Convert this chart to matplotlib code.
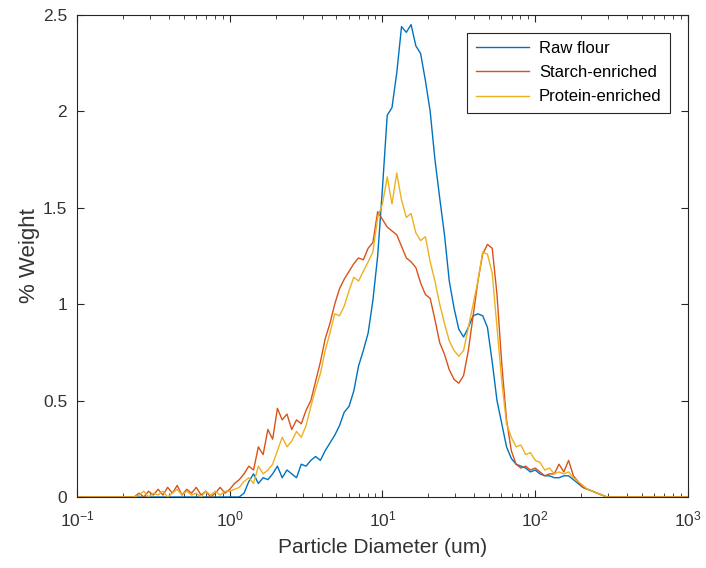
import numpy as np
import matplotlib.pyplot as plt
from matplotlib.ticker import LogLocator, FixedLocator

# size bins: 32 per decade from 0.1 to 1000 um
diameter = np.logspace(-1, 3, 129)

raw_flour = [0.0] * 35 + [
    0.02, 0.08, 0.12, 0.07, 0.10, 0.09, 0.12, 0.16, 0.10, 0.14,   # 35-44
    0.12, 0.10, 0.17, 0.16, 0.19, 0.21, 0.19, 0.24, 0.28, 0.32,   # 45-54
    0.37, 0.44, 0.47, 0.55, 0.68, 0.76, 0.85, 1.02, 1.25, 1.60,   # 55-64
    1.98, 2.02, 2.20, 2.44, 2.41, 2.45, 2.34, 2.30, 2.16, 2.00,   # 65-74
    1.75, 1.55, 1.36, 1.12, 0.98, 0.87, 0.83, 0.88, 0.94, 0.95,   # 75-84
    0.94, 0.88, 0.70, 0.50, 0.38, 0.26, 0.20, 0.17, 0.16, 0.15,   # 85-94
    0.13, 0.14, 0.12, 0.11, 0.11, 0.10, 0.10, 0.11, 0.11, 0.09,   # 95-104
    0.07, 0.05, 0.04, 0.03, 0.02, 0.01] + [0.0] * 18

starch = [0.0] * 13 + [
    0.02, 0.00, 0.03, 0.01, 0.04, 0.01, 0.05,                     # 13-19
    0.02, 0.06, 0.01, 0.04, 0.02, 0.05, 0.01, 0.03, 0.00, 0.02,   # 20-29
    0.05, 0.02, 0.04, 0.07, 0.09, 0.12, 0.16, 0.14, 0.26, 0.22,   # 30-39
    0.35, 0.30, 0.46, 0.40, 0.43, 0.35, 0.40, 0.38, 0.45, 0.50,   # 40-49
    0.60, 0.70, 0.82, 0.90, 1.00, 1.08, 1.13, 1.17, 1.21, 1.24,   # 50-59
    1.23, 1.29, 1.32, 1.48, 1.44, 1.40, 1.38, 1.36, 1.30, 1.24,   # 60-69
    1.22, 1.19, 1.11, 1.05, 1.03, 0.92, 0.80, 0.74, 0.66, 0.61,   # 70-79
    0.59, 0.63, 0.76, 0.94, 1.12, 1.26, 1.31, 1.29, 1.05, 0.69,   # 80-89
    0.40, 0.24, 0.17, 0.15, 0.16, 0.14, 0.15, 0.13, 0.11, 0.12,   # 90-99
    0.12, 0.17, 0.13, 0.19, 0.11, 0.08, 0.05, 0.04, 0.03, 0.02,   # 100-109
    0.01] + [0.0] * 18

protein = [0.0] * 13 + [
    0.01, 0.03, 0.00, 0.02, 0.01, 0.03, 0.00,                     # 13-19
    0.02, 0.04, 0.01, 0.03, 0.01, 0.02, 0.00, 0.03, 0.01, 0.03,   # 20-29
    0.01, 0.03, 0.03, 0.04, 0.05, 0.08, 0.10, 0.07, 0.16, 0.12,   # 30-39
    0.14, 0.17, 0.24, 0.31, 0.26, 0.29, 0.34, 0.31, 0.37, 0.47,   # 40-49
    0.56, 0.64, 0.76, 0.85, 0.95, 0.94, 0.99, 1.07, 1.14, 1.12,   # 50-59
    1.17, 1.22, 1.27, 1.45, 1.52, 1.66, 1.52, 1.68, 1.54, 1.45,   # 60-69
    1.47, 1.37, 1.33, 1.35, 1.22, 1.12, 1.00, 0.90, 0.81, 0.76,   # 70-79
    0.73, 0.76, 0.88, 1.00, 1.12, 1.27, 1.26, 1.16, 0.88, 0.60,   # 80-89
    0.38, 0.31, 0.26, 0.27, 0.22, 0.23, 0.19, 0.18, 0.14, 0.15,   # 90-99
    0.12, 0.13, 0.12, 0.13, 0.10, 0.08, 0.06, 0.04, 0.03, 0.02,   # 100-109
    0.01] + [0.0] * 18

labels = ['Raw flour', 'Starch-enriched', 'Protein-enriched']
colors = ['#0072BD', '#D95319', '#EDB120']
y_ticks = [0, 0.5, 1, 1.5, 2, 2.5]
y_tick_labels = ['0', '0.5', '1', '1.5', '2', '2.5']

plt.rcParams['font.family'] = ['Liberation Sans', 'DejaVu Sans']
plt.rcParams['axes.unicode_minus'] = False
txt = '#333333'

fig = plt.figure(figsize=(7.06, 5.68), dpi=100)
ax = fig.add_axes([0.109, 0.125, 0.8654, 0.8486])

for ys, lab, c in zip([raw_flour, starch, protein], labels, colors):
    ax.plot(diameter, ys, color=c, lw=1.0, label=lab)

ax.set_xscale('log')
ax.set_xlim(0.1, 1000)
ax.set_ylim(0, 2.5)
ax.xaxis.set_major_locator(LogLocator(base=10, numticks=10))
ax.xaxis.set_minor_locator(LogLocator(base=10, subs=np.arange(2, 10), numticks=10))
ax.yaxis.set_major_locator(FixedLocator(y_ticks))
ax.set_yticklabels(y_tick_labels)

ax.tick_params(which='both', direction='in', top=True, right=True,
               colors='#262626', labelsize=12.5, labelcolor=txt)
ax.tick_params(which='major', length=5)
ax.tick_params(which='minor', length=3)
ax.tick_params(axis='x', which='major', pad=9)
ax.tick_params(axis='y', which='major', pad=7)
for s in ax.spines.values():
    s.set_color('#262626')
    s.set_linewidth(0.8)

ax.set_xlabel('Particle Diameter (um)', fontsize=15, color=txt, labelpad=6)
ax.set_ylabel('% Weight', fontsize=16, color=txt, labelpad=2)

leg = ax.legend(loc='upper right', bbox_to_anchor=(0.9705, 0.963), fontsize=12,
                fancybox=False, handlelength=3.2, handletextpad=0.6,
                borderpad=0.5, labelspacing=0.55, borderaxespad=0,
                framealpha=1)
leg.get_frame().set_edgecolor('#262626')
leg.get_frame().set_linewidth(0.8)

fig.savefig('out.png', dpi=100)
